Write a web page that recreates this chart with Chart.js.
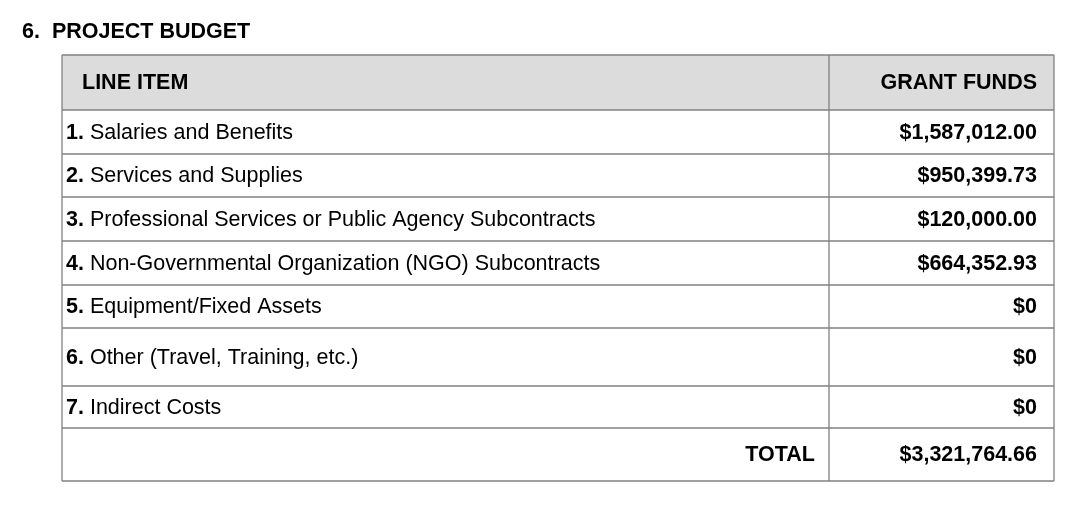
<!DOCTYPE html>
<html>
<head>
<meta charset="utf-8">
<script src="https://cdn.jsdelivr.net/npm/chart.js@4"></script>
<style>
  html, body { margin: 0; padding: 0; background: #fff; }
  #budgetChart { display: block; }
</style>
</head>
<body>
<canvas id="budgetChart" width="1080" height="506"></canvas>
<script>
// PROJECT BUDGET TABLE - drawn on a chart canvas
var title = "6.  PROJECT BUDGET";
var headers = ["LINE ITEM", "GRANT FUNDS"];
var lineNums = ["1.", "2.", "3.", "4.", "5.", "6.", "7."];
var lineItems = ["Salaries and Benefits", "Services and Supplies",
    "Professional Services or Public Agency Subcontracts",
    "Non-Governmental Organization (NGO) Subcontracts",
    "Equipment/Fixed Assets", "Other (Travel, Training, etc.)", "Indirect Costs"];
var grantFunds = [1587012.00, 950399.73, 120000.00, 664352.93, 0, 0, 0];
var totalLabel = "TOTAL";
var totalFunds = 3321764.66;

// layout (in scale units = pixels)
var rowEdges = [55, 110, 154, 197, 241, 285, 328, 386, 428, 481];
var colEdges = [62, 829, 1054];

function money(v) {
    if (v === 0) return "$0";
    return "$" + v.toLocaleString("en-US", { minimumFractionDigits: 2, maximumFractionDigits: 2 });
}

var FONT = "'Liberation Sans', Arial, sans-serif";
var SIZE = '21.5px ';

var tablePlugin = {
    id: 'budgetTable',
    afterDraw: function (chart) {
        var ctx = chart.ctx;
        var x = chart.scales.x, y = chart.scales.y;
        var px = function (v) { return x.getPixelForValue(v); };
        var py = function (v) { return y.getPixelForValue(v); };
        ctx.save();

        // title
        ctx.fillStyle = '#000';
        ctx.font = 'bold ' + SIZE + FONT;
        ctx.textBaseline = 'middle';
        ctx.textAlign = 'left';
        ctx.fillText(title, px(22), py(32));

        // header fill
        ctx.fillStyle = '#dcdcdc';
        ctx.fillRect(px(colEdges[0]), py(rowEdges[0]), px(colEdges[2]) - px(colEdges[0]), py(rowEdges[1]) - py(rowEdges[0]));

        // grid lines
        ctx.strokeStyle = '#808080';
        ctx.lineWidth = 1.3;
        rowEdges.forEach(function (r) {
            ctx.beginPath();
            ctx.moveTo(px(colEdges[0]), py(r));
            ctx.lineTo(px(colEdges[2]), py(r));
            ctx.stroke();
        });
        colEdges.forEach(function (c) {
            ctx.beginPath();
            ctx.moveTo(px(c), py(rowEdges[0]));
            ctx.lineTo(px(c), py(rowEdges[rowEdges.length - 1]));
            ctx.stroke();
        });

        var mid = function (i) { return (py(rowEdges[i]) + py(rowEdges[i + 1])) / 2 + 1; };
        var rightX = px(colEdges[2]) - 17;

        // header text
        ctx.fillStyle = '#000';
        ctx.font = 'bold ' + SIZE + FONT;
        ctx.textAlign = 'left';
        ctx.fillText(headers[0], px(82), mid(0));
        ctx.textAlign = 'right';
        ctx.fillText(headers[1], rightX, mid(0));

        // rows
        lineItems.forEach(function (item, i) {
            var ym = mid(i + 1);
            ctx.textAlign = 'left';
            ctx.font = 'bold ' + SIZE + FONT;
            ctx.fillText(lineNums[i], px(66), ym);
            var w = ctx.measureText(lineNums[i] + ' ').width;
            ctx.font = SIZE + FONT;
            ctx.fillText(item, px(66) + w, ym);
            ctx.textAlign = 'right';
            ctx.font = 'bold ' + SIZE + FONT;
            ctx.fillText(money(grantFunds[i]), rightX, ym);
        });

        // total row
        var yt = mid(lineItems.length + 1);
        ctx.textAlign = 'right';
        ctx.font = 'bold ' + SIZE + FONT;
        ctx.fillText(totalLabel, px(colEdges[1]) - 14, yt);
        ctx.fillText(money(totalFunds), rightX, yt);

        ctx.restore();
    }
};

var budgetChart = new Chart(document.getElementById('budgetChart').getContext('2d'), {
    type: 'scatter',
    data: { datasets: [{ label: 'Grant Funds', data: [] }] },
    options: {
        responsive: false,
        animation: false,
        layout: { padding: 0 },
        plugins: { legend: { display: false }, tooltip: { enabled: false } },
        scales: {
            x: { type: 'linear', min: 0, max: 1080, display: false },
            y: { type: 'linear', min: 0, max: 506, reverse: true, display: false }
        }
    },
    plugins: [tablePlugin]
});
</script>
</body>
</html>
